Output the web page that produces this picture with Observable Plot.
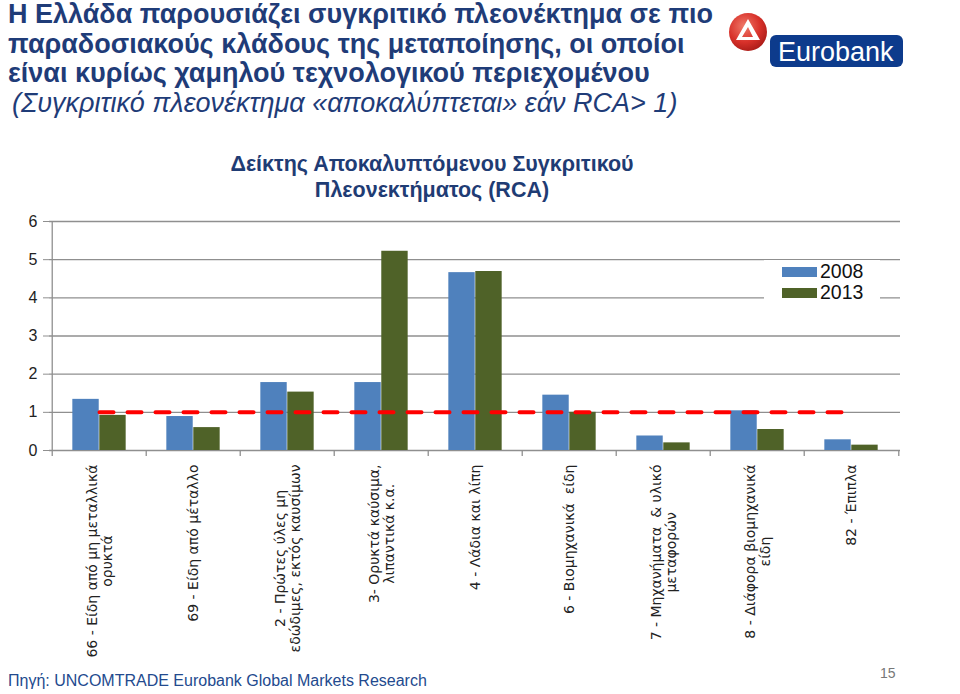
<!DOCTYPE html>
<html>
<head>
<meta charset="utf-8">
<script src="https://cdn.jsdelivr.net/npm/d3@7"></script>
<script src="https://cdn.jsdelivr.net/npm/@observablehq/plot@0.6"></script>
<style>
  html, body { margin: 0; padding: 0; background: #fff; }
  body { width: 960px; height: 694px; position: relative; overflow: hidden; font-family: "Liberation Sans", Arial, sans-serif; }
  .title { position: absolute; left: 8px; top: 0px; color: #1f3c78; font-size: 27px; line-height: 29.5px; white-space: nowrap; }
  .title b { font-weight: bold; }
  .title i { font-style: italic; font-weight: normal; padding-left: 4px; }
  .subtitle { position: absolute; left: 132px; width: 600px; top: 151px; text-align: center; color: #1f3c74; font-weight: bold; font-size: 21.5px; line-height: 26px; }
  #chart { position: absolute; left: 0; top: 200px; }
  .legend { position: absolute; left: 764px; top: 260px; width: 116px; height: 42px; background: #fff; }
  .legend .row { position: absolute; left: 18px; height: 21px; display: flex; align-items: center; }
  .legend .sw { width: 35px; height: 10px; margin-right: 3px; }
  .legend span { font-size: 19.5px; color: #111; }
  .footer { position: absolute; left: 8px; top: 672px; color: #234a8e; font-size: 16px; }
  .page { position: absolute; left: 880px; top: 665px; color: #777; font-size: 14px; }
  .logo { position: absolute; left: 726px; top: 10px; }
</style>
</head>
<body>
<div class="title"><b>Η Ελλάδα παρουσιάζει συγκριτικό πλεονέκτημα σε πιο<br>παραδοσιακούς κλάδους της μεταποίησης, οι οποίοι<br>είναι κυρίως χαμηλού τεχνολογικού περιεχομένου</b><br><i>(Συγκριτικό πλεονέκτημα «αποκαλύπτεται» εάν RCA&gt; 1)</i></div>
<div class="logo">
<svg width="180" height="62" viewBox="0 0 180 62">
  <defs>
    <radialGradient id="rg" cx="40%" cy="35%" r="70%">
      <stop offset="0%" stop-color="#f07a6a"/>
      <stop offset="60%" stop-color="#d8312a"/>
      <stop offset="100%" stop-color="#a81b17"/>
    </radialGradient>
  </defs>
  <rect x="44" y="25" width="133" height="32" rx="6" fill="#0d3b8c"/>
  <circle cx="22" cy="22" r="19" fill="url(#rg)"/>
  <path d="M10 30 L22 9 L34 30 Z M16 27 L22 17 L27 27 Z" fill="#fff" fill-rule="evenodd"/>
  <text x="52" y="51" fill="#fff" font-family="Liberation Sans, Arial, sans-serif" font-size="27">Eurobank</text>
</svg>
</div>
<div class="subtitle">Δείκτης Αποκαλυπτόμενου Συγκριτικού<br>Πλεονεκτήματος (RCA)</div>
<div id="chart"></div>
<div class="legend">
  <div class="row" style="top:1px"><div class="sw" style="background:#4f81bd"></div><span>2008</span></div>
  <div class="row" style="top:22px"><div class="sw" style="background:#4f6228"></div><span>2013</span></div>
</div>
<div class="footer">Πηγή: UNCOMTRADE Eurobank Global Markets Research</div>
<div class="page">15</div>
<script>
const categories = ["66", "69", "2", "3", "4", "6", "7", "8", "82"];
const categoryLabels = [
  "66 - Είδη από μη μεταλλικά\nορυκτά",
  "69 - Είδη από μέταλλο",
  "2 - Πρώτες ύλες μη\nεδώδιμες, εκτός καυσίμων",
  "3- Ορυκτά καύσιμα,\nλιπαντικά κ.α.",
  "4 - Λάδια και λίπη",
  "6 - Βιομηχανικά  είδη",
  "7 - Μηχανήματα  & υλικό\nμεταφορών",
  "8 - Διάφορα βιομηχανικά\nείδη",
  "82 - Έπιπλα"
];
const values2008 = [1.34, 0.89, 1.78, 1.78, 4.66, 1.45, 0.38, 1.04, 0.28];
const values2013 = [0.92, 0.60, 1.53, 5.22, 4.69, 1.00, 0.20, 0.55, 0.14];
const threshold = 1;
const yTicks = [0, 1, 2, 3, 4, 5, 6];

const W = 960, H = 465, mL = 49, mR = 60, mT = 21, mB = 215;
const bw = (W - mL - mR) / categories.length;
const outer = bw * 0.215;

const rows2008 = categories.map((c, i) => ({cat: c, v: values2008[i]}));
const rows2013 = categories.map((c, i) => ({cat: c, v: values2013[i]}));
const labelOf = new Map(categories.map((c, i) => [c, categoryLabels[i]]));
const lineRows = categories.map(c => ({cat: c, v: threshold}));

const plot = Plot.plot({
  width: W, height: H,
  marginLeft: mL, marginRight: mR, marginTop: mT, marginBottom: mB,
  style: {fontFamily: "Liberation Sans, Arial, sans-serif", color: "#222", background: "transparent"},
  x: {type: "band", domain: categories, padding: 0},
  y: {domain: [0, 6]},
  marks: [
    Plot.ruleY(yTicks, {stroke: "#8f8f8f", strokeWidth: 1.3}),
    Plot.ruleX(categories.slice(0, 1), {x: d => d, y1: 0, y2: 6, dx: -bw / 2, stroke: "#8f8f8f", strokeWidth: 1.3}),
    Plot.ruleX(categories, {x: d => d, y1: 0, y2: 0, insetBottom: -6, dx: -bw / 2, stroke: "#8f8f8f", strokeWidth: 1.3}),
    Plot.ruleX(categories.slice(-1), {x: d => d, y1: 0, y2: 0, insetBottom: -6, dx: bw / 2, stroke: "#8f8f8f", strokeWidth: 1.3}),
    Plot.barY(rows2008, {x: "cat", y: "v", fill: "#4f81bd", insetLeft: outer, insetRight: bw / 2}),
    Plot.barY(rows2013, {x: "cat", y: "v", fill: "#4f6228", insetLeft: bw / 2, insetRight: outer}),
    Plot.lineY(lineRows, {x: "cat", y: "v", stroke: "#ff0000", strokeWidth: 4, strokeDasharray: "14,14"}),
    Plot.axisY({ticks: yTicks, tickFormat: d => String(d), tickSize: 6, tickPadding: 6, fontSize: 16, stroke: "#8f8f8f", label: null}),
    Plot.axisX({tickSize: 0, tickRotate: -90, tickPadding: 14, fontSize: 14, fontFamily: "DejaVu Sans", lineHeight: 1.08, tickFormat: d => labelOf.get(d), label: null})
  ]
});
document.getElementById("chart").appendChild(plot);

// center multi-line rotated labels relative to each other
plot.querySelectorAll("text").forEach(t => {
  const spans = t.querySelectorAll("tspan");
  if (spans.length > 1) {
    const lens = Array.from(spans, s => s.getComputedTextLength());
    const max = Math.max(...lens);
    spans.forEach((s, i) => s.setAttribute("x", -(max - lens[i]) / 2));
  }
});
</script>
</body>
</html>
